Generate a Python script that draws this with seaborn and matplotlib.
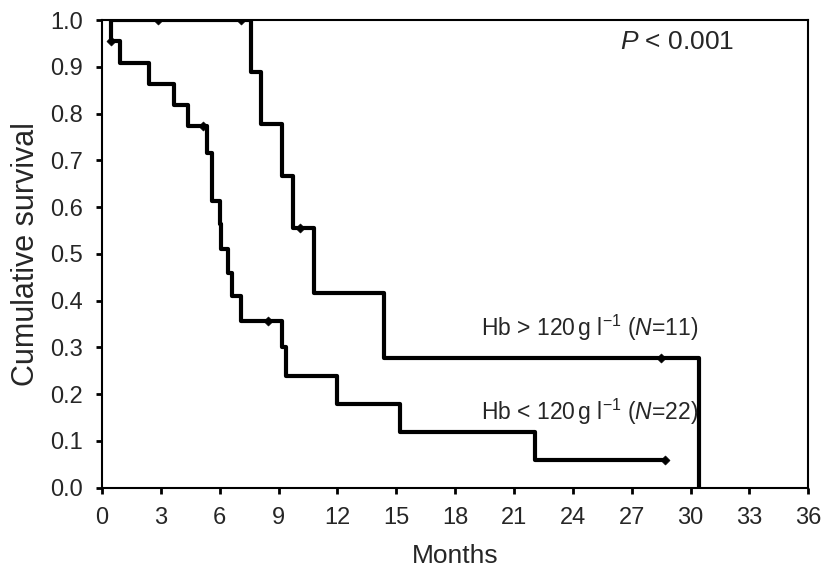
import pandas as pd
import seaborn as sns
import matplotlib.pyplot as plt

# Kaplan-Meier step points (time in months, survival after the step)
high_t = [0.45, 7.62, 8.08, 9.2, 9.74, 10.8, 14.37, 30.45]
high_s = [1.0, 0.889, 0.778, 0.667, 0.556, 0.417, 0.278, 0.0]
high_cens_t = [2.84, 7.08, 10.08, 28.5]
high_cens_s = [1.0, 1.0, 0.556, 0.278]

low_t = [0.45, 0.45, 0.92, 2.39, 3.68, 4.4, 5.33, 5.62, 6.0, 6.09, 6.4, 6.64,
         7.11, 9.2, 9.37, 12.0, 15.2, 22.05, 28.7]
low_s = [1.0, 0.955, 0.909, 0.864, 0.818, 0.773, 0.716, 0.614, 0.563, 0.511,
         0.46, 0.409, 0.357, 0.30, 0.238, 0.179, 0.119, 0.06, 0.06]
low_cens_t = [0.45, 5.16, 8.47, 28.7]
low_cens_s = [0.955, 0.773, 0.357, 0.06]

x_ticks = list(range(0, 37, 3))
y_ticks = [i / 10 for i in range(11)]

sns.set_style("ticks")
plt.rcParams["font.family"] = ["Liberation Sans", "DejaVu Sans"]
plt.rcParams["mathtext.fontset"] = "custom"
plt.rcParams["mathtext.rm"] = "Liberation Sans"
plt.rcParams["mathtext.it"] = "Liberation Sans:italic"

high = pd.DataFrame({"Months": high_t, "Survival": high_s})
low = pd.DataFrame({"Months": low_t, "Survival": low_s})

fig = plt.figure(figsize=(8.26, 5.73), dpi=100)
ax = fig.add_axes([0.1235, 0.149, 0.855, 0.816])

sns.lineplot(data=high, x="Months", y="Survival", ax=ax, color="black", lw=3,
             drawstyle="steps-post", estimator=None, sort=False)
sns.lineplot(data=low, x="Months", y="Survival", ax=ax, color="black", lw=3,
             drawstyle="steps-post", estimator=None, sort=False)
sns.scatterplot(x=high_cens_t, y=high_cens_s, ax=ax, marker="D", s=22,
                color="black", edgecolor="black", zorder=3)
sns.scatterplot(x=low_cens_t, y=low_cens_s, ax=ax, marker="D", s=22,
                color="black", edgecolor="black", zorder=3)

ax.set_xlim(0, 36)
ax.set_ylim(0, 1.0)
ax.set_xticks(x_ticks)
ax.set_yticks(y_ticks)
ax.set_yticklabels([f"{v:.1f}" for v in y_ticks])
ax.tick_params(labelsize=17, length=4, width=2, pad=10, color="black")
for side in ax.spines.values():
    side.set_linewidth(1.5)
    side.set_color("black")

ax.set_xlabel("Months", fontsize=19, labelpad=11)
ax.set_ylabel("Cumulative survival", fontsize=22, labelpad=6)

ax.text(26.4, 0.953, r"$P$ < 0.001", fontsize=19, va="center")
ax.text(19.3, 0.342, r"Hb > 120$\,$g l$^{-1}$ ($N$=11)", fontsize=16.5, va="center")
ax.text(19.3, 0.162, r"Hb < 120$\,$g l$^{-1}$ ($N$=22)", fontsize=16.5, va="center")

plt.savefig("out.png", dpi=100)
